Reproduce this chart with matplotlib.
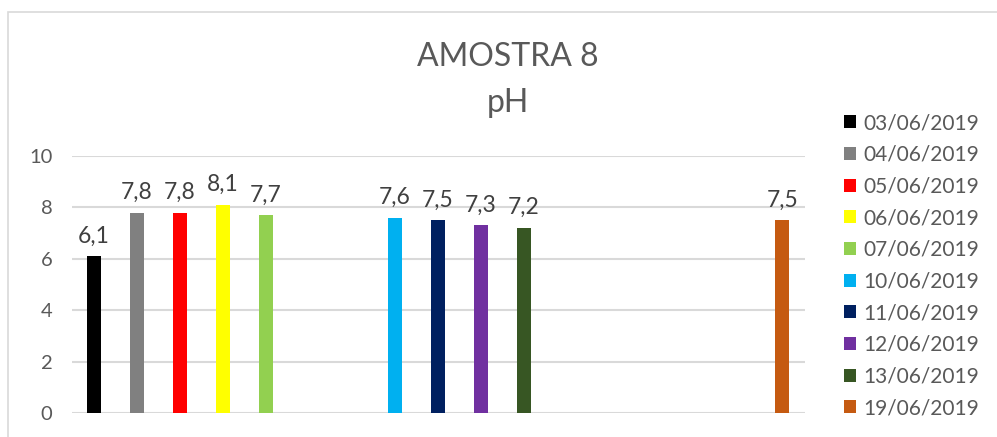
import datetime as dt
import matplotlib
matplotlib.use("Agg")
import matplotlib.pyplot as plt
import matplotlib.dates as mdates
from matplotlib.patches import Patch

# pH readings for sample 8
dates = ["03/06/2019", "04/06/2019", "05/06/2019", "06/06/2019", "07/06/2019",
         "10/06/2019", "11/06/2019", "12/06/2019", "13/06/2019", "19/06/2019"]
ph_values = [6.1, 7.8, 7.8, 8.1, 7.7, 7.6, 7.5, 7.3, 7.2, 7.5]
colors = ["#000000", "#808080", "#FF0000", "#FFFF00", "#92D050",
          "#00B0F0", "#002060", "#7030A0", "#375623", "#C55A11"]
y_ticks = [0, 2, 4, 6, 8, 10]

plt.rcParams["font.family"] = ["Lato", "DejaVu Sans"]

fig = plt.figure(figsize=(9.97, 4.37), dpi=100)
fig.patches.append(plt.Rectangle((8 / 997, -0.1), 1.2, 1 - 12 / 437 + 0.1,
                                 transform=fig.transFigure, fill=False,
                                 edgecolor="#D9D9D9", linewidth=1.2))

ax = fig.add_axes([72 / 997, 24 / 437, 733 / 997, 257 / 437])

xdates = [mdates.date2num(dt.datetime.strptime(d, "%d/%m/%Y")) for d in dates]
bars = ax.bar(xdates, ph_values, width=0.33, color=colors, zorder=3)

for x, v in zip(xdates, ph_values):
    ax.annotate(f"{v:.1f}".replace(".", ","), (x, v), xytext=(0, 7),
                textcoords="offset points", ha="center", va="bottom",
                fontsize=16.5, color="#404040")

ax.set_xlim(xdates[0] - 0.51, xdates[-1] + 0.53)
ax.set_ylim(0, 10)
ax.set_yticks(y_ticks)
ax.set_yticklabels([str(t) for t in y_ticks])
ax.tick_params(axis="y", length=0, labelsize=14.5, labelcolor="#595959", pad=14)
ax.set_xticks([])
ax.grid(axis="y", color="#D9D9D9", linewidth=1.5, zorder=0)
for s in ax.spines.values():
    s.set_visible(False)

fig.text(508 / 997, 1 - 57 / 437, "AMOSTRA 8", ha="center", va="center",
         fontsize=23, color="#595959")
fig.text(508 / 997, 1 - 103 / 437, "pH", ha="center", va="center",
         fontsize=23, color="#595959")

handles = [Patch(facecolor=c, edgecolor="none") for c in colors]
fig.legend(handles, dates, loc="upper left",
           bbox_to_anchor=(838 / 997, 1 - 107 / 437), frameon=False,
           fontsize=15, labelcolor="#595959", handlelength=0.58,
           handleheight=0.58, handletextpad=0.35, labelspacing=0.56,
           borderaxespad=0, borderpad=0.3)

fig.savefig("out.png", dpi=100, facecolor="white")
